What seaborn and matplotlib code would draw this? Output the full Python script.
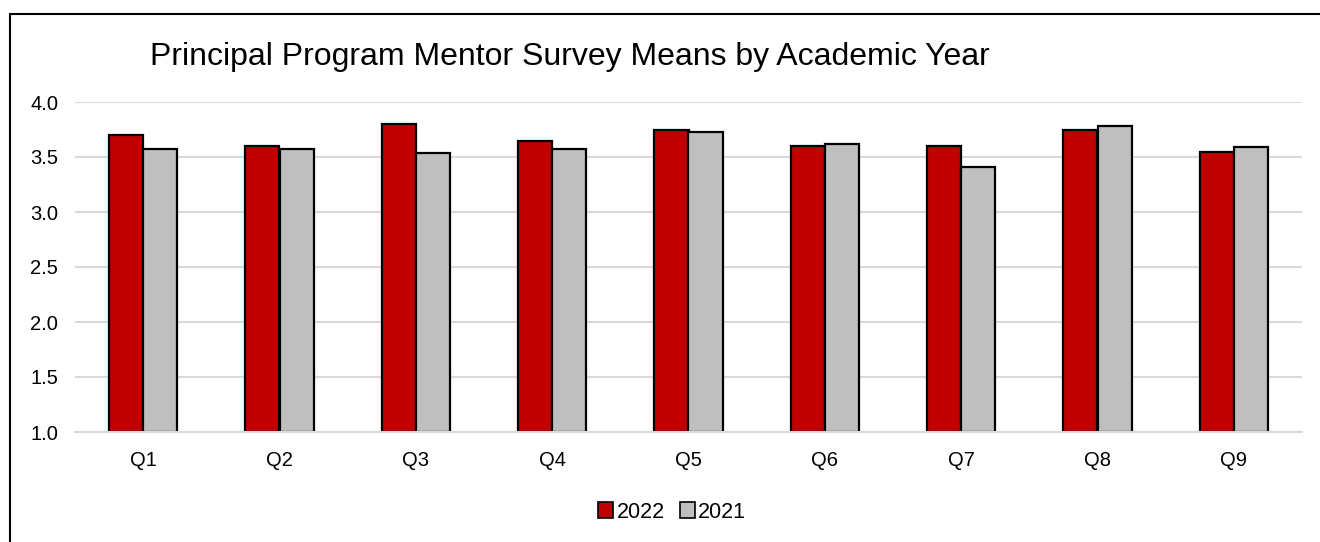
import pandas as pd
import matplotlib.pyplot as plt
import seaborn as sns
from matplotlib.lines import Line2D

questions = ['Q1', 'Q2', 'Q3', 'Q4', 'Q5', 'Q6', 'Q7', 'Q8', 'Q9']
means_2022 = [3.70, 3.60, 3.80, 3.65, 3.75, 3.60, 3.60, 3.75, 3.55]
means_2021 = [3.57, 3.57, 3.54, 3.57, 3.73, 3.62, 3.41, 3.78, 3.59]
years = ['2022', '2021']
yticks = [1.0, 1.5, 2.0, 2.5, 3.0, 3.5, 4.0]

df = pd.DataFrame({
    'Question': questions * 2,
    'Mean': means_2022 + means_2021,
    'Year': [years[0]] * len(questions) + [years[1]] * len(questions),
})

sns.set_style('white')
plt.rcParams['font.family'] = ['Liberation Sans', 'DejaVu Sans']
plt.rcParams['text.color'] = 'black'
plt.rcParams['xtick.color'] = 'black'
plt.rcParams['ytick.color'] = 'black'

fig = plt.figure(figsize=(13.2, 5.42), dpi=100)
ax = fig.add_axes([75 / 1320, 1 - 432 / 542, (1302 - 75) / 1320, 330 / 542])

sns.barplot(data=df, x='Question', y='Mean', hue='Year', hue_order=years,
            palette={'2022': '#c00000', '2021': '#bfbfbf'}, saturation=1,
            width=0.5, gap=0, edgecolor='black', linewidth=1.6,
            ax=ax, legend=False)

# bars should start at the axis floor (1.0), not at zero
for bar in ax.patches:
    h = bar.get_height()
    bar.set_y(1.0)
    bar.set_height(h - 1.0)

ax.set_ylim(1.0, 4.0)
ax.set_yticks(yticks)
ax.set_yticklabels([f'{t:.1f}' for t in yticks], fontsize=14.5)
ax.tick_params(axis='x', labelsize=14.5, pad=14, length=0)
ax.tick_params(axis='y', length=0, pad=12)
ax.yaxis.grid(True, color='#d9d9d9', linewidth=1.5)
ax.set_axisbelow(True)
ax.set_xlabel('')
ax.set_ylabel('')
for side in ['top', 'right', 'left']:
    ax.spines[side].set_visible(False)
ax.spines['bottom'].set_color('#d9d9d9')
ax.spines['bottom'].set_linewidth(1.5)

fig.text(150 / 1320, 1 - 57 / 542, 'Principal Program Mentor Survey Means by Academic Year',
         fontsize=23, ha='left', va='center')

handles = [plt.Rectangle((0, 0), 1, 1, facecolor='#c00000', edgecolor='black', linewidth=1.2),
           plt.Rectangle((0, 0), 1, 1, facecolor='#bfbfbf', edgecolor='black', linewidth=1.2)]
fig.legend(handles, years, loc='center', bbox_to_anchor=(672 / 1320, 1 - 512 / 542),
           ncol=2, frameon=False, fontsize=15.5, handlelength=0.7, handleheight=0.7,
           handletextpad=0.15, columnspacing=0.7)

# chart frame (left and top edges visible)
fig.add_artist(Line2D([10 / 1320, 10 / 1320], [0, 1 - 14 / 542], color='black', linewidth=1.5))
fig.add_artist(Line2D([10 / 1320, 1], [1 - 14 / 542, 1 - 14 / 542], color='black', linewidth=1.5))

fig.savefig('out.png', dpi=100, facecolor='white')
